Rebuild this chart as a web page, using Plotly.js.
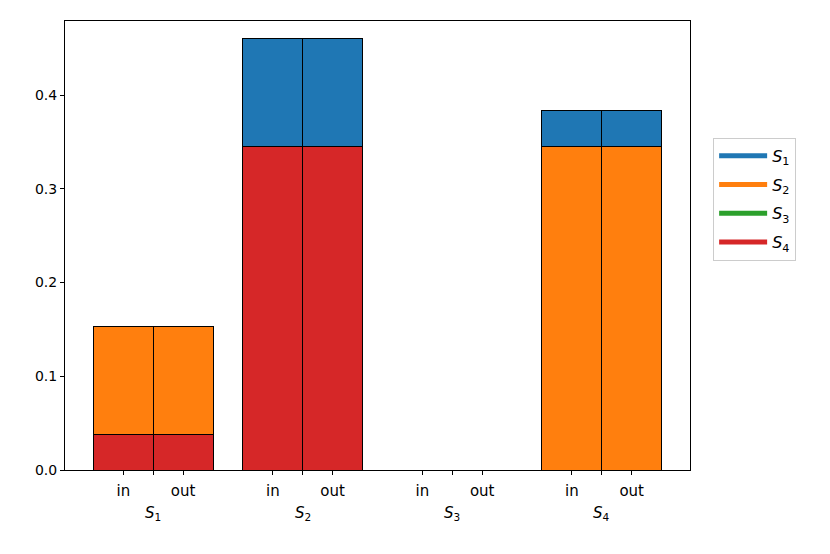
<!DOCTYPE html>
<html>
<head>
<meta charset="utf-8">
<script src="https://cdn.plot.ly/plotly-3.0.1.min.js"></script>
<style>
  body { margin: 0; background: #fff; }
  #chart { width: 830px; height: 554px; }
</style>
</head>
<body>
<div id="chart"></div>
<script>
// groups along x, each with an "in" and an "out" bar
var groups = ['S1', 'S2', 'S3', 'S4'];
var groupLabels = ['<i>S</i><sub>1</sub>', '<i>S</i><sub>2</sub>', '<i>S</i><sub>3</sub>', '<i>S</i><sub>4</sub>'];
var sides = ['in', 'out'];

// stacked contributions per series, one value per group
var s1In  = [0, 0.1152, 0, 0.0384];
var s1Out = [0, 0.1152, 0, 0.0384];
var s2In  = [0.1152, 0, 0, 0.3456];
var s2Out = [0.1152, 0, 0, 0.3456];
var s3In  = [0, 0, 0, 0];
var s3Out = [0, 0, 0, 0];
var s4In  = [0.0384, 0.3456, 0, 0];
var s4Out = [0.0384, 0.3456, 0, 0];

var colors = {S1: '#1f77b4', S2: '#ff7f0e', S3: '#2ca02c', S4: '#d62728'};
var off = 0.2;

// x positions: in bar left of group centre, out bar right of it
var xs = [];
groups.forEach(function(g, i) { xs.push(i - off, i + off); });

function interleave(a, b) {
  var r = [];
  for (var i = 0; i < a.length; i++) r.push(a[i], b[i]);
  return r;
}

function barTrace(name, vin, vout) {
  return {
    x: xs,
    y: interleave(vin, vout),
    type: 'bar',
    width: 0.4,
    name: name,
    showlegend: false,
    marker: {color: colors[name], line: {color: '#000', width: 1}},
    hoverinfo: 'y'
  };
}

// bottom of the stack first
var data = [
  barTrace('S4', s4In, s4Out),
  barTrace('S3', s3In, s3Out),
  barTrace('S2', s2In, s2Out),
  barTrace('S1', s1In, s1Out)
];

// legend entries drawn as thick lines, like the original
groups.forEach(function(g, i) {
  data.push({
    x: [null], y: [null],
    type: 'scatter', mode: 'lines',
    name: groupLabels[i],
    legendgroup: g,
    line: {color: colors[g], width: 5}
  });
});

var tickvals = [], ticktext = [];
groups.forEach(function(g, i) {
  tickvals.push(i - off, i, i + off);
  ticktext.push(sides[0], '', sides[1]);
});

var annotations = groups.map(function(g, i) {
  return {
    x: i, y: -0.072, xref: 'x', yref: 'paper',
    text: groupLabels[i], showarrow: false,
    yanchor: 'top',
    font: {size: 15, color: '#000', family: 'DejaVu Sans'}
  };
});

var layout = {
  width: 830, height: 554,
  margin: {l: 65, r: 140, t: 21, b: 84},
  barmode: 'stack',
  bargap: 0,
  plot_bgcolor: '#fff',
  paper_bgcolor: '#fff',
  font: {family: 'DejaVu Sans', size: 13, color: '#000'},
  xaxis: {
    range: [-0.59, 3.59],
    tickvals: tickvals, ticktext: ticktext,
    ticks: 'outside', ticklen: 4, tickwidth: 1, tickcolor: '#000',
    ticklabelstandoff: 3,
    showline: true, linecolor: '#000', linewidth: 1, mirror: true,
    showgrid: false, zeroline: false,
    tickfont: {size: 15}
  },
  yaxis: {
    range: [0, 0.479],
    tickvals: [0, 0.1, 0.2, 0.3, 0.4],
    ticktext: ['0.0', '0.1', '0.2', '0.3', '0.4'],
    ticks: 'outside', ticklen: 4, tickwidth: 1, tickcolor: '#000',
    showline: true, linecolor: '#000', linewidth: 1, mirror: true,
    showgrid: false, zeroline: false,
    tickfont: {size: 14}
  },
  legend: {
    x: 1.037, y: 0.74, xanchor: 'left', yanchor: 'top',
    traceorder: 'grouped',
    bordercolor: '#ccc', borderwidth: 1,
    font: {size: 16},
    itemwidth: 48,
    tracegroupgap: 5
  },
  annotations: annotations
};

Plotly.newPlot('chart', data, layout, {displayModeBar: false, staticPlot: true});
</script>
</body>
</html>
